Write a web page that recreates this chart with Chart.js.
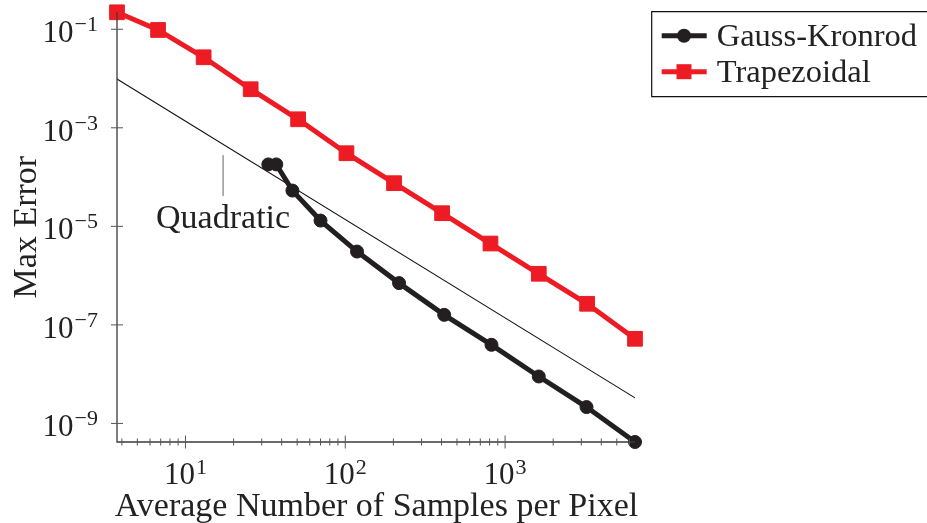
<!DOCTYPE html>
<html>
<head>
<meta charset="utf-8">
<script src="https://cdn.jsdelivr.net/npm/chart.js@4.4.1/dist/chart.umd.min.js"></script>
<style>
html,body{margin:0;padding:0;background:#fff;overflow:hidden;}
canvas{display:block;}
</style>
</head>
<body>
<canvas id="c" width="927" height="523"></canvas>
<script>
// ---- data ----
const gkX   = [33.0, 37.0, 46.7, 70.0, 118.5, 217, 416, 822, 1625, 3232, 6500];
const gkY   = [1.81e-4, 1.81e-4, 5.32e-5, 1.31e-5, 3.08e-6, 7.05e-7, 1.60e-7, 3.94e-8, 8.97e-9, 2.15e-9, 4.2e-10];
const trapX = [3.73, 6.74, 13.0, 25.6, 50.7, 101.7, 202, 403.5, 810, 1625, 3260, 6500];
const trapY = [0.221, 0.0968, 0.0270, 6.07e-3, 1.49e-3, 3.05e-4, 7.52e-5, 1.85e-5, 4.48e-6, 1.09e-6, 2.68e-7, 5.22e-8];
const quadX = [3.73, 6500];
const quadY = [9.8e-3, 3.3e-9];
const seriesLabels = ['Gauss-Kronrod', 'Trapezoidal'];
const quadLabel = 'Quadratic';
const quadLabelAt = [17.2, 2.8e-4];
const xTickValues = [10, 100, 1000];
const xTickExps = ['1', '2', '3'];
const yTickValues = [1e-1, 1e-3, 1e-5, 1e-7, 1e-9];
const yTickExps = ['\u22121', '\u22123', '\u22125', '\u22127', '\u22129'];
const xTitle = 'Average Number of Samples per Pixel';
const yTitle = 'Max Error';

const RED = '#ED1C24';
const BLACK = '#231F20';
const FONT = '"Liberation Serif", "Times New Roman", serif';

const pts = (xs, ys) => xs.map((x, i) => ({x: x, y: ys[i]}));

const axesPlugin = {
  id: 'pgfAxes',
  afterDraw(chart) {
    const ctx = chart.ctx;
    const xs = chart.scales.x, ys = chart.scales.y;
    const a = chart.chartArea;
    const W = chart.width;
    ctx.save();
    // axis lines
    ctx.strokeStyle = '#3a3a3a';
    ctx.lineWidth = 1.3;
    ctx.beginPath();
    ctx.moveTo(a.left, a.top);
    ctx.lineTo(a.left, a.bottom);
    ctx.lineTo(a.right, a.bottom);
    ctx.stroke();
    // y ticks
    ctx.lineWidth = 1;
    ctx.strokeStyle = '#555';
    yTickValues.forEach(v => {
      const py = ys.getPixelForValue(v);
      ctx.beginPath(); ctx.moveTo(a.left - 6, py); ctx.lineTo(a.left + 6, py); ctx.stroke();
    });
    // x ticks (major + minor)
    const lo = Math.floor(Math.log10(xs.min)), hi = Math.ceil(Math.log10(xs.max));
    for (let e = lo; e <= hi; e++) {
      for (let m = 1; m <= 9; m++) {
        const v = m * Math.pow(10, e);
        if (v < xs.min || v > xs.max) continue;
        const px = xs.getPixelForValue(v);
        const h = (m === 1) ? 6.5 : 3.5;
        ctx.beginPath(); ctx.moveTo(px, a.bottom - h); ctx.lineTo(px, a.bottom + h); ctx.stroke();
      }
    }
    // tick labels
    ctx.fillStyle = '#222';
    ctx.textBaseline = 'alphabetic';
    const baseFont = '31px ' + FONT, expFont = '22px ' + FONT;
    yTickValues.forEach((v, i) => {
      const py = ys.getPixelForValue(v);
      ctx.font = expFont;
      const ew = ctx.measureText(yTickExps[i]).width;
      ctx.font = baseFont;
      const bw = ctx.measureText('10').width;
      const right = a.left - 19;
      ctx.textAlign = 'left';
      ctx.fillText('10', right - ew - bw - 1, py + 13);
      ctx.font = expFont;
      ctx.fillText(yTickExps[i], right - ew, py + 2);
    });
    xTickValues.forEach((v, i) => {
      const px = xs.getPixelForValue(v);
      ctx.font = expFont;
      const ew = ctx.measureText(xTickExps[i]).width;
      ctx.font = baseFont;
      const bw = ctx.measureText('10').width;
      const left = px - (bw + ew + 1) / 2;
      ctx.textAlign = 'left';
      ctx.fillText('10', left, a.bottom + 41.5);
      ctx.font = expFont;
      ctx.fillText(xTickExps[i], left + bw + 1, a.bottom + 31.5);
    });
    // axis titles
    ctx.font = '34px ' + FONT;
    ctx.textAlign = 'center';
    ctx.fillText(xTitle, (a.left + a.right) / 2 + 0.5, 516);
    ctx.save();
    ctx.translate(36, (a.top + a.bottom) / 2);
    ctx.rotate(-Math.PI / 2);
    ctx.font = '34px ' + FONT;
    ctx.fillText(yTitle, 0, 0);
    ctx.restore();
    // quadratic pin + label
    const qx = xs.getPixelForValue(quadLabelAt[0]);
    const qy = ys.getPixelForValue(quadLabelAt[1]);
    ctx.strokeStyle = '#666';
    ctx.lineWidth = 1;
    ctx.beginPath(); ctx.moveTo(qx, qy); ctx.lineTo(qx, qy + 41); ctx.stroke();
    ctx.font = '34px ' + FONT;
    ctx.textAlign = 'center';
    ctx.fillStyle = '#222';
    ctx.fillText(quadLabel, qx, qy + 73);
    // legend (box runs off the right edge, as in the reference)
    ctx.strokeStyle = '#111';
    ctx.lineWidth = 1.2;
    ctx.beginPath();
    ctx.moveTo(W + 10, 11.7);
    ctx.lineTo(651.7, 11.7);
    ctx.lineTo(651.7, 96.7);
    ctx.lineTo(W + 10, 96.7);
    ctx.stroke();
    const rows = [{y: 35.7, ds: chart.data.datasets[0]}, {y: 71.7, ds: chart.data.datasets[1]}];
    rows.forEach(r => {
      const ds = r.ds;
      ctx.strokeStyle = ds.borderColor;
      ctx.lineWidth = ds.borderWidth;
      ctx.beginPath(); ctx.moveTo(661.7, r.y); ctx.lineTo(706.7, r.y); ctx.stroke();
      ctx.fillStyle = ds.pointBackgroundColor;
      if (ds.pointStyle === 'rect') {
        ctx.fillRect(684 - 7.5, r.y - 7.5, 15, 15);
      } else {
        ctx.beginPath(); ctx.arc(684, r.y, 7, 0, Math.PI * 2); ctx.fill();
      }
      ctx.fillStyle = '#222';
      ctx.font = '32.5px ' + FONT;
      ctx.textAlign = 'left';
      ctx.fillText(ds.label, 716.7, r.y + 10);
    });
    ctx.restore();
  }
};

new Chart(document.getElementById('c'), {
  type: 'line',
  data: {
    datasets: [
      {
        label: seriesLabels[0], data: pts(gkX, gkY),
        borderColor: BLACK, backgroundColor: BLACK, borderWidth: 5,
        pointStyle: 'circle', pointRadius: 6.5, pointBorderWidth: 1,
        pointBackgroundColor: BLACK, pointBorderColor: BLACK,
        clip: false, tension: 0
      },
      {
        label: seriesLabels[1], data: pts(trapX, trapY),
        borderColor: RED, backgroundColor: RED, borderWidth: 5,
        pointStyle: 'rect', pointRadius: 10.4, pointBorderWidth: 1,
        pointBackgroundColor: RED, pointBorderColor: RED,
        clip: false, tension: 0
      },
      {
        label: quadLabel, data: pts(quadX, quadY),
        borderColor: '#111', borderWidth: 1.1, pointRadius: 0,
        clip: false, tension: 0
      }
    ]
  },
  options: {
    responsive: false,
    animation: false,
    devicePixelRatio: 1,
    layout: { padding: { left: 117, top: 12.3, right: 292, bottom: 81 } },
    plugins: { legend: { display: false }, tooltip: { enabled: false } },
    scales: {
      x: { type: 'logarithmic', min: 3.73, max: 6500, display: false },
      y: { type: 'logarithmic', min: 4.2e-10, max: 0.221, display: false }
    }
  },
  plugins: [axesPlugin]
});
</script>
</body>
</html>
